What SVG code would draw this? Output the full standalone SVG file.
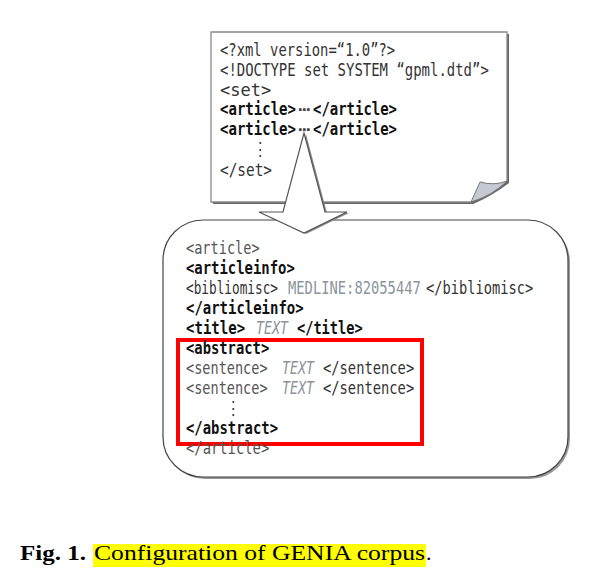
<svg xmlns="http://www.w3.org/2000/svg" width="594" height="581" viewBox="0 0 594 581">
<style>
.m{font-family:"DejaVu Sans Mono","Liberation Mono",monospace;font-size:17.5px;fill:#333}
.b{font-weight:bold;fill:#111}
.g{fill:#8a949c;font-style:italic}
.gm{fill:#8a949c}
.d{fill:#444}
.l{fill:#555}
.cap{font-family:"Liberation Serif","Times New Roman",serif;font-size:22px;fill:#000}
</style>
<rect width="594" height="581" fill="#fff"/>
<g id="document">
  <path d="M213,34 H509 V183 Q492,196 473,204 H213 Z" fill="#666"/>
  <path d="M211,32 H507 V181 Q490,194 471,202 H211 Z" fill="#fff" stroke="#888" stroke-width="1.3"/>
  <path d="M471,202 L480,182 Q494,186 507,181 Q492,196 471,202 Z" fill="#c5c9d2" stroke="#777" stroke-width="1"/>
  <text class="m" transform="translate(220,56) scale(0.8,1)" textLength="219" lengthAdjust="spacingAndGlyphs">&lt;?xml version=“1.0”?&gt;</text>
  <text class="m" transform="translate(220,76) scale(0.8,1)" textLength="336" lengthAdjust="spacingAndGlyphs">&lt;!DOCTYPE set SYSTEM “gpml.dtd”&gt;</text>
  <text class="m" transform="translate(220,96) scale(0.8,1)" textLength="64" lengthAdjust="spacingAndGlyphs">&lt;set&gt;</text>
  <text class="m b" transform="translate(220,115) scale(0.8,1)" textLength="95" lengthAdjust="spacingAndGlyphs">&lt;article&gt;</text>
  <text class="m d" transform="translate(298,115) scale(0.8,1)" textLength="16" lengthAdjust="spacingAndGlyphs">⋯</text>
  <text class="m b" transform="translate(313,115) scale(0.8,1)" textLength="105" lengthAdjust="spacingAndGlyphs">&lt;/article&gt;</text>
  <text class="m b" transform="translate(220,135) scale(0.8,1)" textLength="95" lengthAdjust="spacingAndGlyphs">&lt;article&gt;</text>
  <text class="m d" transform="translate(298,135) scale(0.8,1)" textLength="16" lengthAdjust="spacingAndGlyphs">⋯</text>
  <text class="m b" transform="translate(313,135) scale(0.8,1)" textLength="105" lengthAdjust="spacingAndGlyphs">&lt;/article&gt;</text>
  <text class="m" transform="translate(253,155) scale(0.8,1)">⋮</text>
  <text class="m" transform="translate(220,176) scale(0.8,1)" textLength="65" lengthAdjust="spacingAndGlyphs">&lt;/set&gt;</text>
</g>
<g id="article">
  <rect x="165" y="222" width="405" height="257" rx="40" fill="#999"/>
  <rect x="163" y="220" width="405" height="257" rx="40" fill="#fff" stroke="#444" stroke-width="1.2"/>
  <text class="m l" transform="translate(186,254) scale(0.8,1)" textLength="92" lengthAdjust="spacingAndGlyphs">&lt;article&gt;</text>
  <text class="m b" transform="translate(186,274) scale(0.8,1)" textLength="136" lengthAdjust="spacingAndGlyphs">&lt;articleinfo&gt;</text>
  <text class="m" transform="translate(186,294) scale(0.8,1)" textLength="115" lengthAdjust="spacingAndGlyphs">&lt;bibliomisc&gt;</text>
  <text class="m gm" transform="translate(288,294) scale(0.8,1)" textLength="166" lengthAdjust="spacingAndGlyphs">MEDLINE:82055447</text>
  <text class="m" transform="translate(426,294) scale(0.8,1)" textLength="134" lengthAdjust="spacingAndGlyphs">&lt;/bibliomisc&gt;</text>
  <text class="m b" transform="translate(186,314) scale(0.8,1)" textLength="147" lengthAdjust="spacingAndGlyphs">&lt;/articleinfo&gt;</text>
  <text class="m b" transform="translate(186,334) scale(0.8,1)" textLength="74" lengthAdjust="spacingAndGlyphs">&lt;title&gt;</text>
  <text class="m g" transform="translate(256,334) scale(0.8,1)" textLength="40" lengthAdjust="spacingAndGlyphs">TEXT</text>
  <text class="m b" transform="translate(297,334) scale(0.8,1)" textLength="82" lengthAdjust="spacingAndGlyphs">&lt;/title&gt;</text>
</g>
<g id="abstract">
  <rect x="178" y="340" width="244" height="104" fill="none" stroke="#ff0000" stroke-width="4"/>
  <text class="m b" transform="translate(186,354) scale(0.8,1)" textLength="104" lengthAdjust="spacingAndGlyphs">&lt;abstract&gt;</text>
  <text class="m l" transform="translate(186,374) scale(0.8,1)" textLength="102" lengthAdjust="spacingAndGlyphs">&lt;sentence&gt;</text>
  <text class="m g" transform="translate(282,374) scale(0.8,1)" textLength="40" lengthAdjust="spacingAndGlyphs">TEXT</text>
  <text class="m" transform="translate(323,374) scale(0.8,1)" textLength="114" lengthAdjust="spacingAndGlyphs">&lt;/sentence&gt;</text>
  <text class="m l" transform="translate(186,394) scale(0.8,1)" textLength="102" lengthAdjust="spacingAndGlyphs">&lt;sentence&gt;</text>
  <text class="m g" transform="translate(282,394) scale(0.8,1)" textLength="40" lengthAdjust="spacingAndGlyphs">TEXT</text>
  <text class="m" transform="translate(323,394) scale(0.8,1)" textLength="114" lengthAdjust="spacingAndGlyphs">&lt;/sentence&gt;</text>
  <text class="m" transform="translate(226,414) scale(0.8,1)">⋮</text>
  <text class="m b" transform="translate(186,434) scale(0.8,1)" textLength="115" lengthAdjust="spacingAndGlyphs">&lt;/abstract&gt;</text>
</g>
<g id="article-end">
  <text class="m l" transform="translate(186,454) scale(0.8,1)" textLength="104" lengthAdjust="spacingAndGlyphs">&lt;/article&gt;</text>
</g>
<g id="connectors">
  <path d="M306,134 L285,213 L261,213 L306,234 L349,213 L327,213 Z" fill="#888"/>
  <path d="M304,133 L283,212 L259,212 L304,233 L347,212 L325,212 Z" fill="#fff" stroke="#555" stroke-width="1.2" stroke-linejoin="miter"/>
</g>
<g id="caption">
  <text class="cap" x="20" y="560" font-weight="bold" textLength="66" lengthAdjust="spacingAndGlyphs">Fig. 1.</text>
  <rect x="93" y="544" width="333" height="23" fill="#ffff00"/>
  <text class="cap" x="94" y="560" textLength="331" lengthAdjust="spacingAndGlyphs">Configuration of GENIA corpus</text>
  <text class="cap" x="426" y="560">.</text>
</g>
</svg>
